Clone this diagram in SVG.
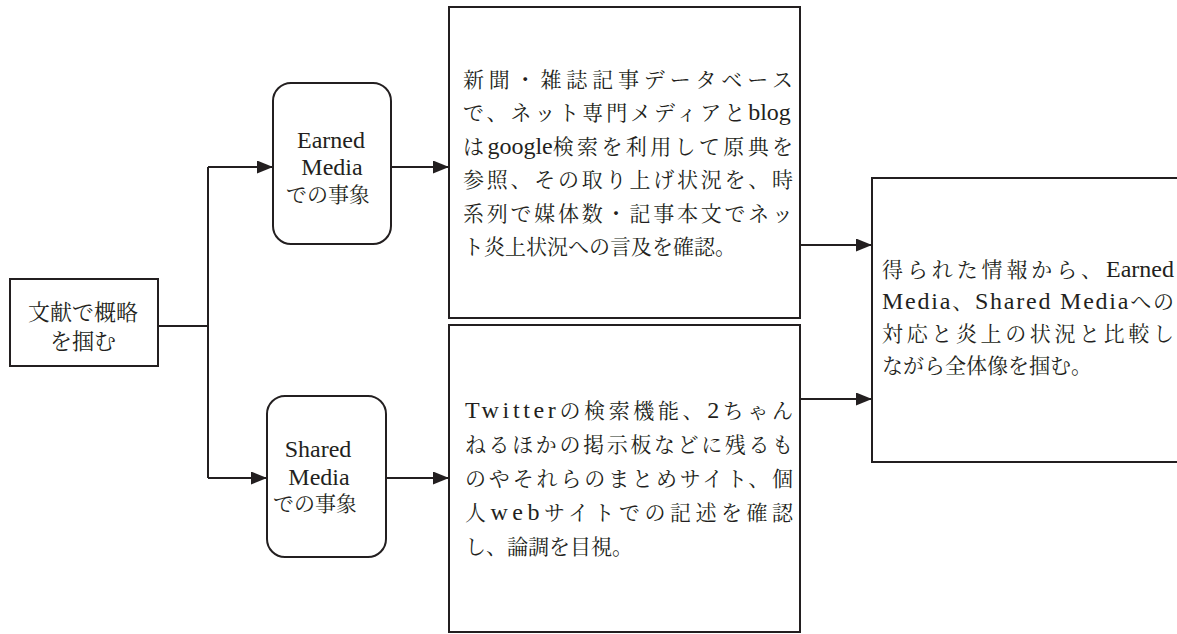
<svg xmlns="http://www.w3.org/2000/svg" width="1177" height="634" viewBox="0 0 1177 634">
<style>
.box{fill:#fff;stroke:#231f20;stroke-width:2}
.ln{fill:none;stroke:#231f20;stroke-width:2}
.t{font-family:"Liberation Serif","Noto Serif CJK JP","Noto Sans CJK JP",serif;font-size:21px;fill:#231f20}
.c{text-anchor:middle}
.lat{font-size:24px}
</style>
<defs>
<marker id="ah" markerUnits="userSpaceOnUse" markerWidth="17" markerHeight="14" refX="16" refY="6.5" orient="auto">
<path d="M0,0 L16,6.5 L0,13 z" fill="#231f20"/>
</marker>
</defs>
<g id="connectors">
<path class="ln" d="M158,326 H208"/>
<path class="ln" d="M208,167 V478"/>
<path class="ln" d="M208,167 H273" marker-end="url(#ah)"/>
<path class="ln" d="M208,478 H267" marker-end="url(#ah)"/>
<path class="ln" d="M391,167 H449" marker-end="url(#ah)"/>
<path class="ln" d="M386,478 H449" marker-end="url(#ah)"/>
<path class="ln" d="M800,245 H872" marker-end="url(#ah)"/>
<path class="ln" d="M801,399 H872" marker-end="url(#ah)"/>
</g>
<g id="node-literature">
<rect class="box" x="10" y="279" width="148" height="87"/>
<text class="t c" x="83" y="320" style="font-size:22px">文献で概略</text>
<text class="t c" x="83" y="349" style="font-size:22px">を掴む</text>
</g>
<g id="node-earned">
<rect class="box" x="273" y="83" width="118" height="161" rx="18"/>
<text class="t c lat" x="331" y="148">Earned</text>
<text class="t c lat" x="332" y="175">Media</text>
<text class="t c" x="328" y="202">での事象</text>
</g>
<g id="node-shared">
<rect class="box" x="267" y="396" width="119" height="161" rx="18"/>
<text class="t c lat" x="318" y="457">Shared</text>
<text class="t c lat" x="319" y="485">Media</text>
<text class="t c" x="315" y="511">での事象</text>
</g>
<g id="node-earned-detail">
<rect class="box" x="449" y="7" width="351" height="311"/>
<text class="t" x="463" y="87" textLength="330" lengthAdjust="spacing">新聞・雑誌記事データベース</text>
<text class="t" x="463" y="120"><tspan letter-spacing="2.94">で、ネット専門メディアと</tspan><tspan class="lat">blog</tspan></text>
<text class="t" x="463" y="154"><tspan letter-spacing="3.37">は</tspan><tspan class="lat">google</tspan><tspan letter-spacing="3.37">検索を利用して原典を</tspan></text>
<text class="t" x="463" y="187" textLength="330" lengthAdjust="spacing">参照、その取り上げ状況を、時</text>
<text class="t" x="463" y="221" textLength="330" lengthAdjust="spacing">系列で媒体数・記事本文でネッ</text>
<text class="t" x="463" y="254">ト炎上状況への言及を確認。</text>
</g>
<g id="node-shared-detail">
<rect class="box" x="449" y="325" width="351" height="307"/>
<text class="t" x="465" y="418" textLength="328" lengthAdjust="spacing"><tspan class="lat">Twitter</tspan>の検索機能、<tspan class="lat">2</tspan>ちゃん</text>
<text class="t" x="465" y="452" textLength="328" lengthAdjust="spacing">ねるほかの掲示板などに残るも</text>
<text class="t" x="465" y="486" textLength="328" lengthAdjust="spacing">のやそれらのまとめサイト、個</text>
<text class="t" x="465" y="520" textLength="328" lengthAdjust="spacing">人<tspan class="lat">web</tspan>サイトでの記述を確認</text>
<text class="t" x="465" y="554">し、論調を目視。</text>
</g>
<g id="node-overall">
<rect class="box" x="872" y="178" width="330" height="284"/>
<text class="t" x="882" y="277"><tspan letter-spacing="3.89">得られた情報から、</tspan><tspan class="lat">Earned</tspan></text>
<text class="t" x="882" y="309" textLength="292" lengthAdjust="spacing"><tspan class="lat">Media</tspan>、<tspan class="lat">Shared Media</tspan>への</text>
<text class="t" x="882" y="341" textLength="292" lengthAdjust="spacing">対応と炎上の状況と比較し</text>
<text class="t" x="882" y="373">ながら全体像を掴む。</text>
</g>
</svg>
